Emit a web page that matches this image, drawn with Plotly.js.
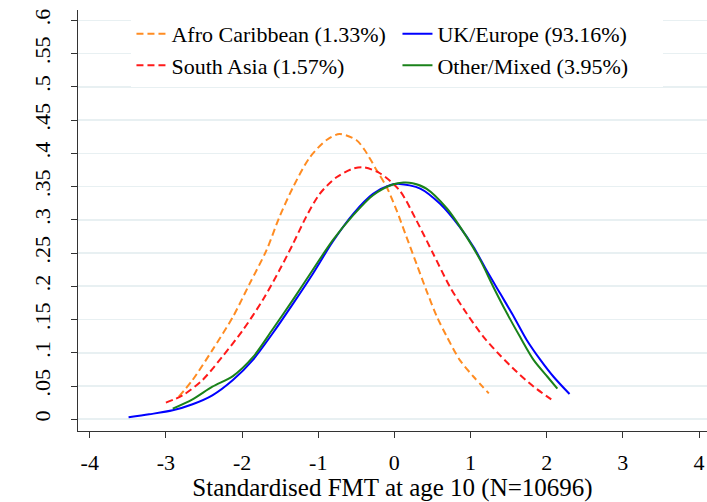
<!DOCTYPE html>
<html>
<head>
<meta charset="utf-8">
<script src="https://cdn.plot.ly/plotly-3.0.1.min.js"></script>
<style>html,body{margin:0;padding:0;background:#fff;}#chart{width:707px;height:502px;}</style>
</head>
<body>
<div id="chart"></div>
<script>
// Series: Afro Caribbean (1.33%)
const afroX = [-2.83, -2.65, -2.39, -2.12, -1.90, -1.68, -1.51, -1.33, -1.11, -0.89, -0.72, -0.50, -0.39, -0.23, -0.10, 0.03, 0.16, 0.29, 0.42, 0.56, 0.69, 0.86, 1.04, 1.24];
const afroY = [0.034, 0.059, 0.104, 0.154, 0.204, 0.254, 0.304, 0.349, 0.394, 0.420, 0.429, 0.420, 0.405, 0.374, 0.349, 0.314, 0.274, 0.234, 0.194, 0.154, 0.124, 0.089, 0.064, 0.039];
// Series: South Asia (1.57%)
const asiaX = [-3.00, -2.78, -2.52, -2.26, -1.99, -1.73, -1.51, -1.33, -1.16, -0.98, -0.76, -0.54, -0.41, -0.19, 0.07, 0.29, 0.51, 0.73, 0.95, 1.17, 1.39, 1.61, 1.83, 2.06];
const asiaY = [0.025, 0.036, 0.059, 0.094, 0.134, 0.179, 0.224, 0.264, 0.304, 0.339, 0.364, 0.377, 0.379, 0.370, 0.344, 0.299, 0.249, 0.199, 0.159, 0.124, 0.096, 0.071, 0.049, 0.030];
// Series: UK/Europe (93.16%)
const ukX = [-3.49, -3.22, -2.91, -2.65, -2.39, -2.12, -1.86, -1.60, -1.33, -1.07, -0.81, -0.54, -0.28, -0.06, 0.07, 0.34, 0.60, 0.86, 1.04, 1.21, 1.39, 1.57, 1.74, 1.92, 2.09, 2.30];
const ukY = [0.003, 0.0075, 0.0135, 0.0226, 0.036, 0.059, 0.089, 0.129, 0.174, 0.219, 0.267, 0.309, 0.339, 0.352, 0.354, 0.347, 0.324, 0.289, 0.259, 0.224, 0.189, 0.154, 0.119, 0.089, 0.064, 0.038];
// Series: Other/Mixed (3.95%)
const otherX = [-2.91, -2.65, -2.39, -2.12, -1.86, -1.60, -1.33, -1.07, -0.81, -0.54, -0.28, -0.02, 0.12, 0.24, 0.42, 0.69, 0.95, 1.13, 1.30, 1.48, 1.65, 1.83, 2.01, 2.14];
const otherY = [0.016, 0.030, 0.049, 0.065, 0.093, 0.135, 0.180, 0.225, 0.269, 0.307, 0.337, 0.353, 0.356, 0.355, 0.347, 0.317, 0.274, 0.239, 0.199, 0.159, 0.124, 0.089, 0.064, 0.046];

const seriesNames = ["Afro Caribbean (1.33%)", "UK/Europe (93.16%)", "South Asia (1.57%)", "Other/Mixed (3.95%)"];

// Tick labels
const xTickVals = [-4, -3, -2, -1, 0, 1, 2, 3, 4];
const xTickText = ["-4", "-3", "-2", "-1", "0", "1", "2", "3", "4"];
const yTickVals = [0, 0.05, 0.1, 0.15, 0.2, 0.25, 0.3, 0.35, 0.4, 0.45, 0.5, 0.55, 0.6];
const yTickText = ["0", ".05", ".1", ".15", ".2", ".25", ".3", ".35", ".4", ".45", ".5", ".55", ".6"];
const xTitle = "Standardised FMT at age 10 (N=10696)";

const FONT = "Liberation Serif";

function tr(x, y, name, color, dash) {
  return {
    x: x, y: y, name: name, type: "scatter", mode: "lines",
    line: {color: color, width: 2, dash: dash, shape: "spline", smoothing: 0.8},
    hoverinfo: "skip"
  };
}

const data = [
  tr(afroX, afroY, seriesNames[0], "#ff8c22", "7px,4px"),
  tr(ukX, ukY, seriesNames[1], "#0000ff", "solid"),
  tr(asiaX, asiaY, seriesNames[2], "#ff1a1a", "7px,4px"),
  tr(otherX, otherY, seriesNames[3], "#1a821a", "solid")
];

const layout = {
  width: 707, height: 502,
  margin: {l: 78, r: 0, t: 10, b: 71, pad: 0},
  paper_bgcolor: "#ffffff", plot_bgcolor: "#ffffff",
  font: {family: FONT, color: "#000000", size: 20},
  showlegend: true,
  legend: {
    orientation: "h", x: 0.085, xanchor: "left", y: 0.993, yanchor: "top",
    bgcolor: "#ffffff", borderwidth: 0, entrywidth: 221,
    font: {family: FONT, size: 22, color: "#000000"},
    traceorder: "normal", tracegroupgap: 0
  },
  xaxis: {
    range: [-4.154, 4.105], tickmode: "array", tickvals: xTickVals, ticktext: xTickText,
    ticks: "outside", ticklen: 6, tickwidth: 1, tickcolor: "#333333",
    showline: true, linecolor: "#333333", linewidth: 1, mirror: false,
    showgrid: false, zeroline: false, ticklabelstandoff: 6,
    tickfont: {family: FONT, size: 22, color: "#000000"},
    title: {text: xTitle, font: {family: FONT, size: 25, color: "#000000"}, standoff: 7}
  },
  yaxis: {
    range: [-0.0176, 0.6155], tickmode: "array", tickvals: yTickVals, ticktext: yTickText,
    ticks: "outside", ticklen: 6, tickwidth: 1, tickcolor: "#333333", tickangle: -90,
    showline: true, linecolor: "#333333", linewidth: 1, ticklabelstandoff: 12,
    showgrid: true, gridcolor: "#e8f0f2", gridwidth: 1.6, zeroline: false,
    tickfont: {family: FONT, size: 22, color: "#000000"}
  }
};

Plotly.newPlot("chart", data, layout, {staticPlot: true, displayModeBar: false});
</script>
</body>
</html>
